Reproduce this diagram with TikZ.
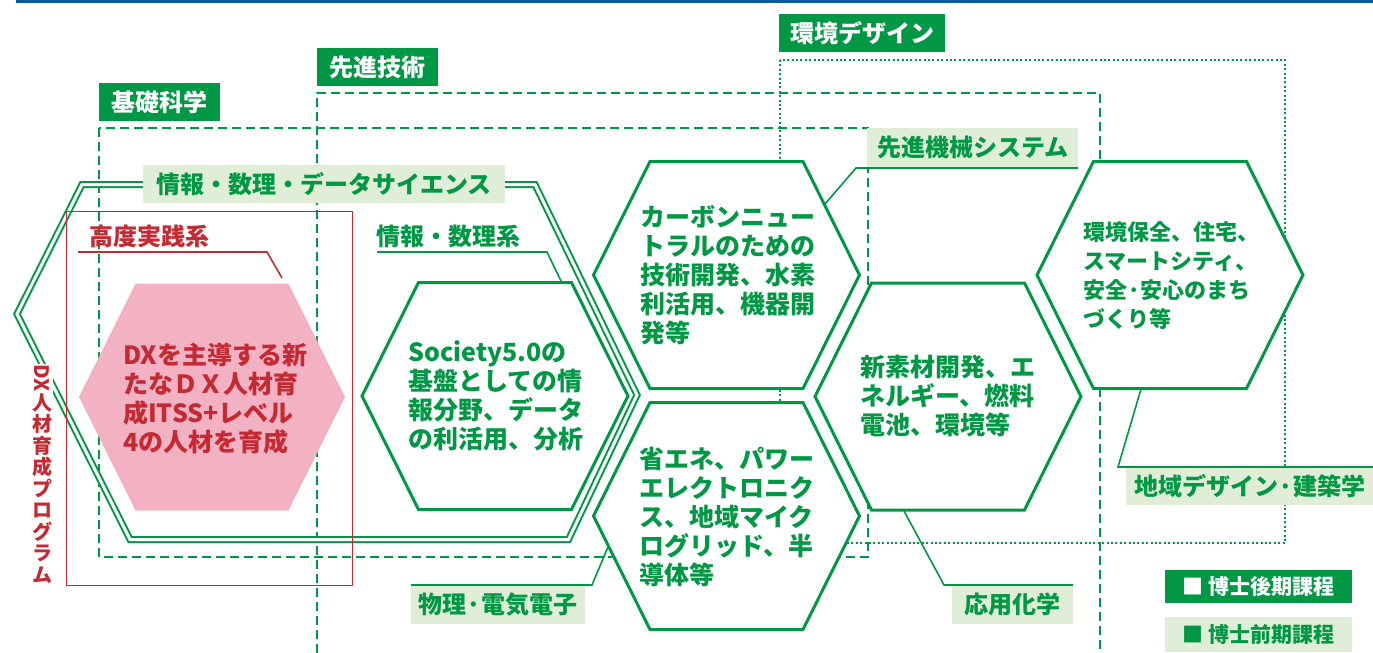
\documentclass[tikz,border=0pt]{standalone}
\usepackage{fontspec}
\setmainfont{Noto Sans CJK JP}
\usepackage{graphicx}
\definecolor{grn}{HTML}{009844}
\definecolor{lgrn}{HTML}{E0EED7}
\definecolor{dred}{HTML}{C52A33}
\definecolor{pnk}{HTML}{F2B2C3}
\definecolor{topblue}{HTML}{0B5A99}
\begin{document}
\begin{tikzpicture}[x=1pt,y=-1pt,
  hexa/.pic={\path[pic actions] (-133,0) -- (-76.5,-113.5) -- (76.5,-113.5) -- (133,0) -- (76.5,113.5) -- (-76.5,113.5) -- cycle;},
  hexline/.style={draw=grn, line width=3pt, fill=white},
  hextext/.style={anchor=west, align=left, text=grn, inner sep=0pt, font=\fontsize{25}{29}\selectfont\bfseries},
  darklabel/.style={fill=grn, text=white, anchor=north west, inner sep=0pt, font=\fontsize{24}{29}\selectfont\bfseries},
  lightlabel/.style={fill=lgrn, text=grn, anchor=north west, inner sep=0pt, font=\fontsize{24}{29}\selectfont\bfseries},
  plainlabel/.style={anchor=west, inner sep=0pt, font=\fontsize{24}{29}\selectfont\bfseries},
  leader/.style={draw=grn, line width=1.6pt},
  rleader/.style={draw=dred, line width=1.6pt},
  dashline/.style={draw=grn, line width=2pt, dash pattern=on 9pt off 5pt},
  dotline/.style={draw=grn, line width=2pt, dash pattern=on 2pt off 2.4pt},
  dblline/.style={draw=grn, line width=2pt, double=white, double distance=3pt, line join=miter}
]
\useasboundingbox (0,0) rectangle (1373,653);
% top rule
\fill[topblue] (16,0) rectangle (1373,2.5);

% field frames
\draw[dashline] (99,128) rectangle (868,557);
\draw[dashline] (317,653) -- (317,93) -- (1100,93) -- (1100,653);
\draw[dotline] (780,60) rectangle (1285,543);

% DX programme double hexagon
\draw[dblline] (82,184.5) -- (535,184.5) -- (637,395) -- (568.5,539.5) -- (130,539.5) -- (17,314) -- cycle;

% high-level practice frame
\draw[dred, line width=1pt] (66,211) rectangle (352,585);

% hexagon centres
\coordinate (hDX) at (212,397);
\coordinate (hSoc) at (495,396);
\coordinate (hCar) at (726.5,275);
\coordinate (hPow) at (726.5,516);
\coordinate (hMat) at (948,396.5);
\coordinate (hEnv) at (1170,275);

\pic[fill=pnk] at (hDX) {hexa};
\pic[hexline] at (hSoc) {hexa};
\pic[hexline] at (hCar) {hexa};
\pic[hexline] at (hPow) {hexa};
\pic[hexline] at (hMat) {hexa};
\pic[hexline] at (hEnv) {hexa};

% hexagon texts
\node[hextext, text=dred] (tDX) at (123,398.5) {DXを主導する新\\たなＤＸ人材育\\成ITSS+レベル\\4の人材を育成};
\node[hextext] (tSoc) at (408,396) {Society5.0の\\基盤としての情\\報分野、データ\\の利活用、分析};
\node[hextext] (tCar) at (640,275) {カーボンニュー\\トラルのための\\技術開発、水素\\利活用、機器開\\発等};
\node[hextext] (tPow) at (639,516.5) {省エネ、パワー\\エレクトロニク\\ス、地域マイク\\ログリッド、半\\導体等};
\node[hextext] (tMat) at (860,396.5) {新素材開発、エ\\ネルギー、燃料\\電池、環境等};
\node[hextext, font=\fontsize{22}{29}\selectfont\bfseries] (tEnv) at (1083,276) {環境保全、住宅、\\スマートシティ、\\安全·安心のまち\\づくり等};

% field labels
\node[darklabel, minimum width=121pt, minimum height=38pt] (lKiso) at (99,83) {基礎科学};
\node[darklabel, minimum width=121pt, minimum height=38pt] (lSen) at (317,48) {先進技術};
\node[darklabel, minimum width=166pt, minimum height=38pt] (lKan) at (779,14) {環境デザイン};

% programme labels
\node[lightlabel, minimum width=362pt, minimum height=38pt] (lDS) at (143,165) {情報・数理・データサイエンス};
\node[lightlabel, minimum width=211pt, minimum height=39pt] (lMech) at (867,128) {先進機械システム};
\node[lightlabel, minimum width=247pt, minimum height=38pt] (lArch) at (1126,467) {地域デザイン·建築学};
\node[lightlabel, minimum width=121pt, minimum height=39pt] (lChem) at (952,585) {応用化学};
\node[lightlabel, minimum width=174pt, minimum height=39pt] (lPhys) at (411,585) {物理·電気電子};
\node[plainlabel, text=dred] (lKodo) at (89,236) {高度実践系};
\node[plainlabel, text=grn] (lJoho) at (376,236) {情報・数理系};

% leaders
\coordinate (kodoA) at (78,252);
\coordinate (kodoB) at (267,252);
\coordinate (kodoC) at (282,278);
\draw[rleader] (kodoA) -- (kodoB) -- (kodoC);
\coordinate (johoA) at (377,252);
\coordinate (johoB) at (547,252);
\coordinate (johoC) at (561,281);
\draw[leader] (johoA) -- (johoB) -- (johoC);
\coordinate (mechA) at (1078,168);
\coordinate (mechB) at (856,168);
\coordinate (mechC) at (825,204);
\draw[leader] (mechA) -- (mechB) -- (mechC);
\coordinate (archA) at (1373,467);
\coordinate (archB) at (1118,467);
\coordinate (archC) at (1141,389);
\draw[leader] (archA) -- (archB) -- (archC);
\coordinate (chemA) at (1073,585);
\coordinate (chemB) at (944,585);
\coordinate (chemC) at (904,511);
\draw[leader] (chemA) -- (chemB) -- (chemC);
\coordinate (physA) at (411,585);
\coordinate (physB) at (592,585);
\coordinate (physC) at (608,547);
\draw[leader] (physA) -- (physB) -- (physC);

% vertical programme name
\node[fill=white, text=dred, align=center, inner sep=1pt, font=\fontsize{20}{21.5}\selectfont\bfseries] (dxprog) at (42,474)
  {\rotatebox[origin=c]{-90}{DX}\\[1pt]人\\材\\育\\成\\プ\\ロ\\グ\\ラ\\ム};

% legend
\node[darklabel, minimum width=187pt, minimum height=33pt, font=\fontsize{21}{25}\selectfont\bfseries] (legD) at (1165,570) {■ 博士後期課程};
\node[lightlabel, minimum width=187pt, minimum height=35pt, font=\fontsize{21}{25}\selectfont\bfseries] (legM) at (1165,617) {■ 博士前期課程};
\end{tikzpicture}
\end{document}
